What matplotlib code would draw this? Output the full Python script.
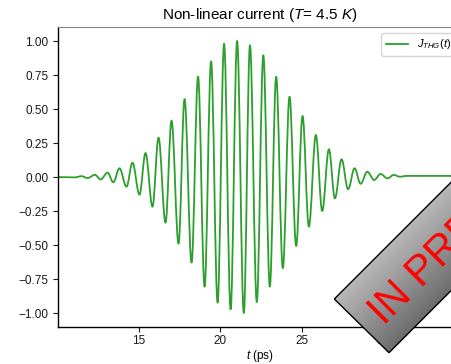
import numpy as np
import matplotlib
matplotlib.use('Agg')
import matplotlib.pyplot as plt
from matplotlib.path import Path
from matplotlib.patches import PathPatch, Polygon
from matplotlib.lines import Line2D

plt.rcParams['font.family'] = ['Liberation Sans', 'DejaVu Sans']
plt.rcParams['mathtext.fontset'] = 'custom'
plt.rcParams['mathtext.rm'] = 'Liberation Sans'
plt.rcParams['mathtext.it'] = 'Liberation Sans:italic'
plt.rcParams['mathtext.bf'] = 'Liberation Sans:bold'

# ---------------- data ----------------
# successive extrema of J_THG(t): time (ps) and normalised current
extrema_t = [10.0, 11.05, 11.48, 11.85, 12.30, 12.65, 13.08, 13.43, 13.81, 14.24,
             14.61, 15.04, 15.41, 15.84, 16.21, 16.64, 17.01, 17.44, 17.81, 18.24,
             18.64, 19.04, 19.44, 19.84, 20.24, 20.64, 21.04, 21.45, 21.83, 22.25,
             22.65, 23.05, 23.44, 23.85, 24.26, 24.67, 25.06, 25.45, 25.88, 26.27,
             26.68, 27.05, 27.46, 27.86, 28.26, 28.63, 29.04, 29.46, 29.86, 30.28,
             30.66, 31.05, 31.45, 35.0]
extrema_j = [0.0, -0.003, 0.006, -0.008, 0.016, -0.018, 0.032, -0.039, 0.064, -0.071,
             0.105, -0.130, 0.176, -0.218, 0.289, -0.336, 0.414, -0.490, 0.573, -0.630,
             0.738, -0.806, 0.850, -0.924, 0.980, -0.973, 1.000, -1.000, 0.968, -0.920,
             0.895, -0.806, 0.737, -0.670, 0.590, -0.507, 0.449, -0.365, 0.309, -0.250,
             0.204, -0.157, 0.130, -0.090, 0.064, -0.050, 0.039, -0.022, 0.022, -0.010,
             0.015, 0.002, 0.008, 0.008]
series_label = r'$J_{THG}(t)$'
title_text = r'Non-linear current ($T$= 4.5 $K$)'
xlabel_text = r'$t$ (ps)'
x_ticks = [15, 20, 25, 30]
y_ticks = [-1.0, -0.75, -0.5, -0.25, 0.0, 0.25, 0.5, 0.75, 1.0]
banner_text = 'IN PREPARATION'

# ---------------- figure ----------------
W, H = 451, 364
fig = plt.figure(figsize=(W / 100, H / 100), dpi=100)
ax = fig.add_axes([58.3 / W, (H - 326.6) / H, (461 - 58.3) / W, 299.2 / H])

green = '#2ca02c'
k = 0.3634  # cubic Bezier handle giving a cosine-like half wave
verts = [(extrema_t[0], extrema_j[0])]
codes = [Path.MOVETO]
for ta, ja, tb, jb in zip(extrema_t[:-1], extrema_j[:-1], extrema_t[1:], extrema_j[1:]):
    h = tb - ta
    verts += [(ta + k * h, ja), (tb - k * h, jb), (tb, jb)]
    codes += [Path.CURVE4] * 3
curve = PathPatch(Path(verts, codes), fill=False, edgecolor=green, lw=1.3,
                  transform=ax.transData, joinstyle='round')
ax.add_patch(curve)

ax.set_xlim(10.05, 34.8)
ax.set_ylim(-1.1, 1.1)
ax.set_xticks(x_ticks)
ax.set_yticks(y_ticks)
ax.tick_params(labelsize=8.5, length=3.5, width=0.8, colors='#1a1a1a')
ax.tick_params(axis='x', pad=2.5)
ax.set_yticklabels([f'{v:.2f}'.replace('-', '\u2212') for v in y_ticks])
ax.set_title(title_text, fontsize=11, pad=6)
ax.set_xlabel(xlabel_text, fontsize=8.5, labelpad=0.5)
for s in ['left', 'bottom']:
    ax.spines[s].set_color('black')
    ax.spines[s].set_linewidth(1.0)
ax.spines['top'].set_color('#888888')
ax.spines['right'].set_visible(False)

ax.legend(handles=[Line2D([], [], color=green, lw=1.3, label=series_label)],
          loc='upper right', fontsize=8)

# ---------------- "IN PREPARATION" banner ----------------
ov = fig.add_axes([0, 0, 1, 1], zorder=5)
ov.set_xlim(0, W)
ov.set_ylim(H, 0)
ov.axis('off')
A = np.array([334.3, 299.0])
B = np.array([389.0, 352.7])
d = np.array([1.0, -1.0]) / np.sqrt(2)
L = 400
poly = Polygon([A, B, B + L * d, A + L * d], closed=True, facecolor='none',
               edgecolor='black', lw=1.0, zorder=3)
ov.add_patch(poly)
yy, xx = np.mgrid[0:H, 0:W]
u = np.clip(((xx + yy) - 633.0) / (742.0 - 633.0), 0, 1)
grad = 0.72 - 0.30 * u
im = ov.imshow(grad, cmap='gray', vmin=0, vmax=1, extent=(0, W, H, 0),
               interpolation='bilinear', aspect='auto', zorder=2)
im.set_clip_path(poly)
ov.set_xlim(0, W)
ov.set_ylim(H, 0)
ov.text(384.2, 325.8, banner_text, rotation=45, rotation_mode='anchor',
        ha='left', va='baseline', color='red', fontsize=30, zorder=4)

fig.savefig('out.png', dpi=100)
